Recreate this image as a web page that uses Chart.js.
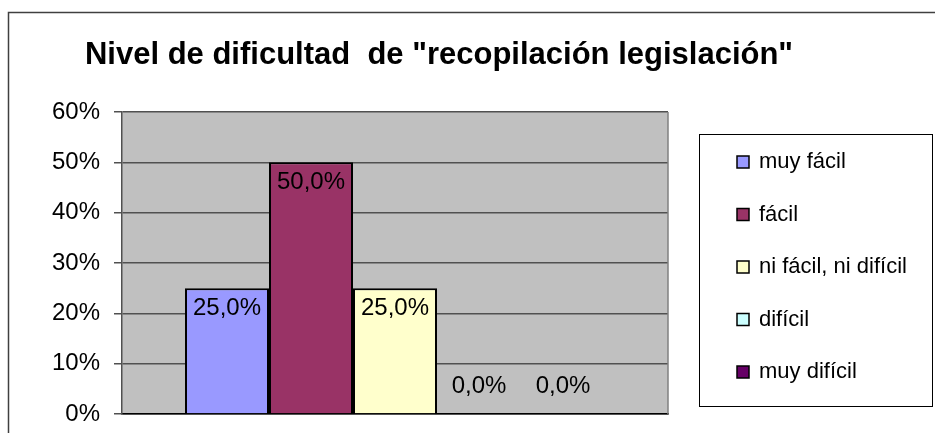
<!DOCTYPE html>
<html>
<head>
<meta charset="utf-8">
<script src="https://cdn.jsdelivr.net/npm/chart.js@4/dist/chart.umd.min.js"></script>
<style>
    body { margin: 0; background: #fff; }
    #wrap { width: 935px; height: 433px; position: relative; }
</style>
</head>
<body>
<div id="wrap"><canvas id="chart"></canvas></div>
<script>
const title = 'Nivel de dificultad  de "recopilación legislación"';
const categories = ['muy fácil', 'fácil', 'ni fácil, ni difícil', 'difícil', 'muy difícil'];
const values = [0.25, 0.50, 0.25, 0.0, 0.0];
const colors = ['#9999FF', '#993366', '#FFFFCC', '#CCFFFF', '#660066'];
const tickLabels = ['0%', '10%', '20%', '30%', '40%', '50%', '60%'];

const FONT = "'Liberation Sans', Arial, sans-serif";

function pct(v) {
    return (v * 100).toFixed(1).replace('.', ',') + '%';
}

// gray plot area, outer frame and title
const backdrop = {
    id: 'backdrop',
    beforeDraw(chart) {
        const ctx = chart.ctx;
        const a = chart.chartArea;
        ctx.save();
        ctx.fillStyle = '#C0C0C0';
        ctx.fillRect(a.left, a.top, a.right - a.left, a.bottom - a.top);
        // frame (right and bottom edges are off the picture)
        ctx.strokeStyle = '#404040';
        ctx.lineWidth = 1.5;
        ctx.beginPath();
        ctx.moveTo(8.5, chart.height);
        ctx.lineTo(8.5, 12.5);
        ctx.lineTo(chart.width, 12.5);
        ctx.stroke();
        ctx.fillStyle = '#000';
        ctx.font = 'bold 31px ' + FONT;
        ctx.textAlign = 'center';
        ctx.textBaseline = 'middle';
        ctx.fillText(title, 439, 55);
        ctx.restore();
    },
    afterDatasetsDraw(chart) {
        // plot area border on the right
        const ctx = chart.ctx;
        const a = chart.chartArea;
        ctx.save();
        ctx.strokeStyle = '#808080';
        ctx.lineWidth = 1.5;
        ctx.beginPath();
        ctx.moveTo(a.right, a.top);
        ctx.lineTo(a.right, a.bottom);
        ctx.stroke();
        ctx.restore();
    }
};

// value labels on bars
const barLabels = {
    id: 'barLabels',
    afterDatasetsDraw(chart) {
        const ctx = chart.ctx;
        ctx.save();
        ctx.font = '24px ' + FONT;
        ctx.fillStyle = '#000';
        ctx.textAlign = 'center';
        ctx.textBaseline = 'middle';
        chart.data.datasets.forEach((ds, i) => {
            const bar = chart.getDatasetMeta(i).data[0];
            let y;
            if (bar.base - bar.y > 40) y = bar.y + 20;
            else y = bar.y - 28;
            ctx.fillText(pct(ds.data[0]), bar.x, y);
        });
        ctx.restore();
    }
};

// boxed legend to the right of the plot
const boxLegend = {
    id: 'boxLegend',
    afterDraw(chart) {
        const ctx = chart.ctx;
        const a = chart.chartArea;
        const left = a.right + 31;
        const top = 134;
        ctx.save();
        ctx.strokeStyle = '#000';
        ctx.lineWidth = 1;
        ctx.strokeRect(left + 0.5, top + 0.5, 233, 272);
        ctx.font = '22px ' + FONT;
        ctx.textBaseline = 'middle';
        ctx.textAlign = 'left';
        chart.data.datasets.forEach((ds, i) => {
            const cy = top + 28 + i * 52.5;
            ctx.fillStyle = ds.backgroundColor;
            ctx.fillRect(left + 38, cy - 6, 12, 12);
            ctx.lineWidth = 1.5;
            ctx.strokeRect(left + 38, cy - 6, 12, 12);
            ctx.fillStyle = '#000';
            ctx.fillText(ds.label, left + 60, cy);
        });
        ctx.restore();
    }
};

document.addEventListener("DOMContentLoaded", function() {
    const datasets = [];
    for (let i = 0; i < categories.length; i++) {
        datasets.push({
            label: categories[i],
            data: [values[i]],
            backgroundColor: colors[i],
            borderColor: '#000',
            borderWidth: 2,
            categoryPercentage: 420 / 546,
            barPercentage: 1.0
        });
    }

    const config = {
        type: 'bar',
        data: {
            labels: [''],
            datasets: datasets
        },
        options: {
            responsive: true,
            maintainAspectRatio: false,
            animation: false,
            layout: {
                padding: { left: 0, top: 112, right: 267, bottom: 0 }
            },
            plugins: {
                legend: { display: false },
                title: { display: false },
                tooltip: { enabled: false }
            },
            scales: {
                x: {
                    grid: { display: false },
                    ticks: { display: false },
                    border: { display: true, color: '#000', width: 1.5 },
                    afterFit: s => { s.height = 19; s.paddingLeft = 0; s.paddingRight = 0; }
                },
                y: {
                    min: 0,
                    max: 0.6,
                    ticks: {
                        stepSize: 0.1,
                        color: '#000',
                        padding: 14,
                        font: { family: FONT, size: 24 },
                        callback: (v, idx) => tickLabels[idx]
                    },
                    grid: {
                        color: '#505050',
                        lineWidth: 1.5,
                        tickLength: 8
                    },
                    border: { display: true, color: '#505050', width: 1.5 },
                    afterFit: s => { s.width = 122; s.paddingTop = 0; s.paddingBottom = 0; }
                }
            }
        },
        plugins: [backdrop, barLabels, boxLegend]
    };
    new Chart(document.getElementById('chart'), config);
});
</script>
</body>
</html>
